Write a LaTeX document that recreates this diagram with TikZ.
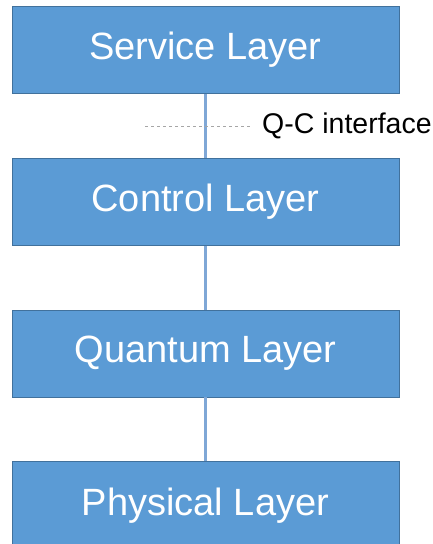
\documentclass[tikz,border=0pt]{standalone}
\usepackage{fontspec}
\setmainfont{Liberation Sans}
\usetikzlibrary{positioning}
\definecolor{layerfill}{HTML}{5B9BD5}
\definecolor{layerline}{HTML}{41719C}
\definecolor{linkblue}{HTML}{7FA7D6}
\tikzset{
  layer/.style={
    draw=layerline, line width=0.8pt, fill=layerfill, text=white,
    minimum width=387pt, minimum height=87pt, inner sep=0pt,
    font=\fontsize{38}{42}\selectfont
  },
  link/.style={draw=linkblue, line width=2.4pt}
}
\begin{document}
\begin{tikzpicture}[node distance=64pt]
\useasboundingbox (0pt,0pt) rectangle (433pt,544pt);
\node[layer] (service) at (205.5pt,494pt) {Service Layer};
\node[layer, below=of service] (control) {Control Layer};
\node[layer, below=of control] (quantum) {Quantum Layer};
\node[layer, below=of quantum] (physical) {Physical Layer};
\draw[link] (service) -- (control);
\draw[link] (control) -- (quantum);
\draw[link] (quantum) -- (physical);
% interface marker
\coordinate (qcstart) at (145pt,418pt);
\node[anchor=west, inner sep=0pt, font=\fontsize{28.5}{32}\selectfont] (qc) at (262pt,418pt) {Q-C interface};
\draw[gray!70, dashed, line width=0.8pt] (qcstart) -- ([xshift=-12pt]qc.west);
\end{tikzpicture}
\end{document}
